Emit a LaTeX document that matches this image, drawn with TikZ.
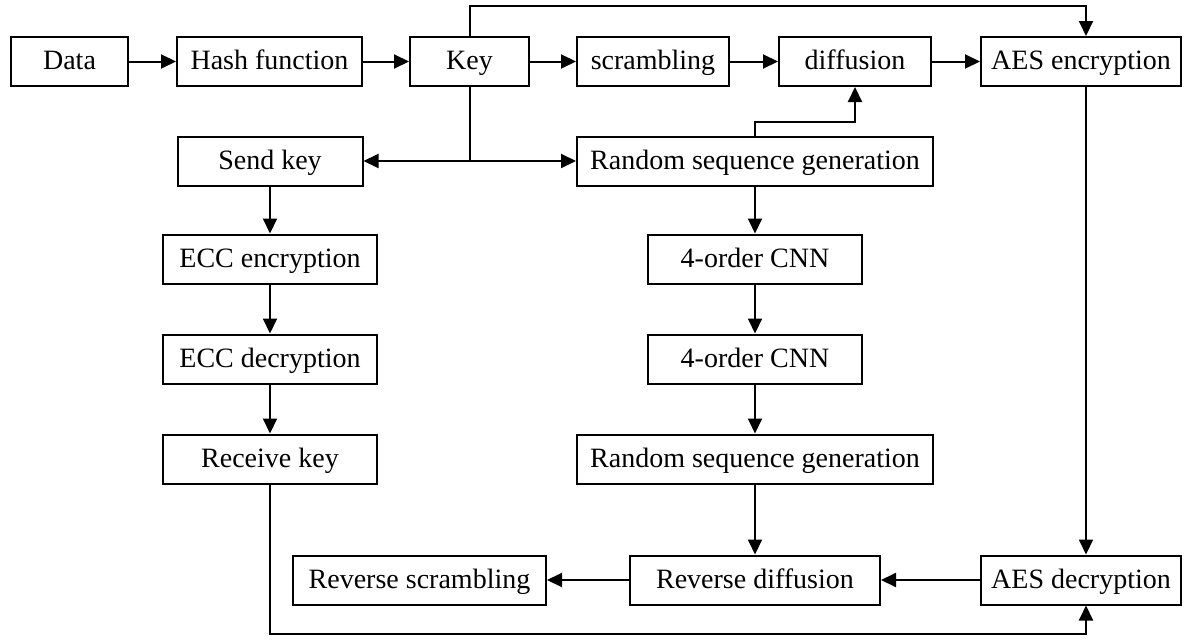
\documentclass[tikz,border=0pt]{standalone}
\usepackage{fontspec}
\setmainfont{Liberation Serif}
\usetikzlibrary{arrows.meta}

\begin{document}
\begin{tikzpicture}[x=1pt, y=-1pt, line width=2pt, line join=miter,
  box/.style={draw, line width=2pt, minimum height=49pt, inner sep=0pt,
    text height=20.5pt, text depth=4.5pt, font=\fontsize{28}{32}\selectfont},
  arr/.style={-{Triangle[length=15pt,width=14pt]}}]

  %% ==== top row ====
  \node[box, minimum width=117pt] (data)    at (69.5,61.5)  {Data};
  \node[box, minimum width=185pt] (hash)    at (269.5,61.5) {Hash function};
  \node[box, minimum width=119pt] (key)     at (469.5,61.5) {Key};
  \node[box, minimum width=152pt] (scramb)  at (653,61.5)   {scrambling};
  \node[box, minimum width=152pt] (diffus)  at (855,61.5)   {diffusion};
  \node[box, minimum width=200pt] (aesenc)  at (1081,61.5)  {AES encryption};

  %% ==== left column ====
  \node[box, minimum width=185pt] (sendkey) at (270,161) {Send key};
  \node[box, minimum width=214pt] (eccenc)  at (270,259) {ECC encryption};
  \node[box, minimum width=214pt] (eccdec)  at (270,359) {ECC decryption};
  \node[box, minimum width=214pt] (recvkey) at (270,459) {Receive key};

  %% ==== middle column ====
  \node[box, minimum width=356pt] (rsgA)    at (755,161) {Random sequence generation};
  \node[box, minimum width=214pt] (cnnA)    at (755,259) {4-order CNN};
  \node[box, minimum width=214pt] (cnnB)    at (755,359) {4-order CNN};
  \node[box, minimum width=356pt] (rsgB)    at (755,459) {Random sequence generation};

  %% ==== bottom row ====
  \node[box, minimum width=253pt] (revscr)  at (419.5,580) {Reverse scrambling};
  \node[box, minimum width=250pt] (revdif)  at (755,580)   {Reverse diffusion};
  \node[box, minimum width=200pt] (aesdec)  at (1081,580)  {AES decryption};

  %% ==== connectors ====
  \draw[arr] (data) -- (hash);
  \draw[arr] (hash) -- (key);
  \draw[arr] (key) -- (scramb);
  \draw[arr] (scramb) -- (diffus);
  \draw[arr] (diffus) -- (aesenc);
  \draw[arr] (key.north) -- ++(0,-30) -| ([xshift=5pt]aesenc.north);
  \draw[arr] (key.south) |- (sendkey.east);
  \draw[arr] (key.south) |- (rsgA.west);
  \draw[arr] (rsgA.north) -- ++(0,-14) -| (diffus.south);

  \draw[arr] (sendkey) -- (eccenc);
  \draw[arr] (eccenc) -- (eccdec);
  \draw[arr] (eccdec) -- (recvkey);

  \draw[arr] (rsgA) -- (cnnA);
  \draw[arr] (cnnA) -- (cnnB);
  \draw[arr] (cnnB) -- (rsgB);
  \draw[arr] (rsgB) -- (revdif);

  \draw[arr] ([xshift=5pt]aesenc.south) -- ([xshift=5pt]aesdec.north);
  \draw[arr] (aesdec) -- (revdif);
  \draw[arr] (revdif) -- (revscr);
  \draw[arr] (recvkey.south) -- ++(0,149) -| ([xshift=5pt]aesdec.south);

  \pgfresetboundingbox
  \path[use as bounding box] (0,0) rectangle (1186,640);
\end{tikzpicture}
\end{document}
